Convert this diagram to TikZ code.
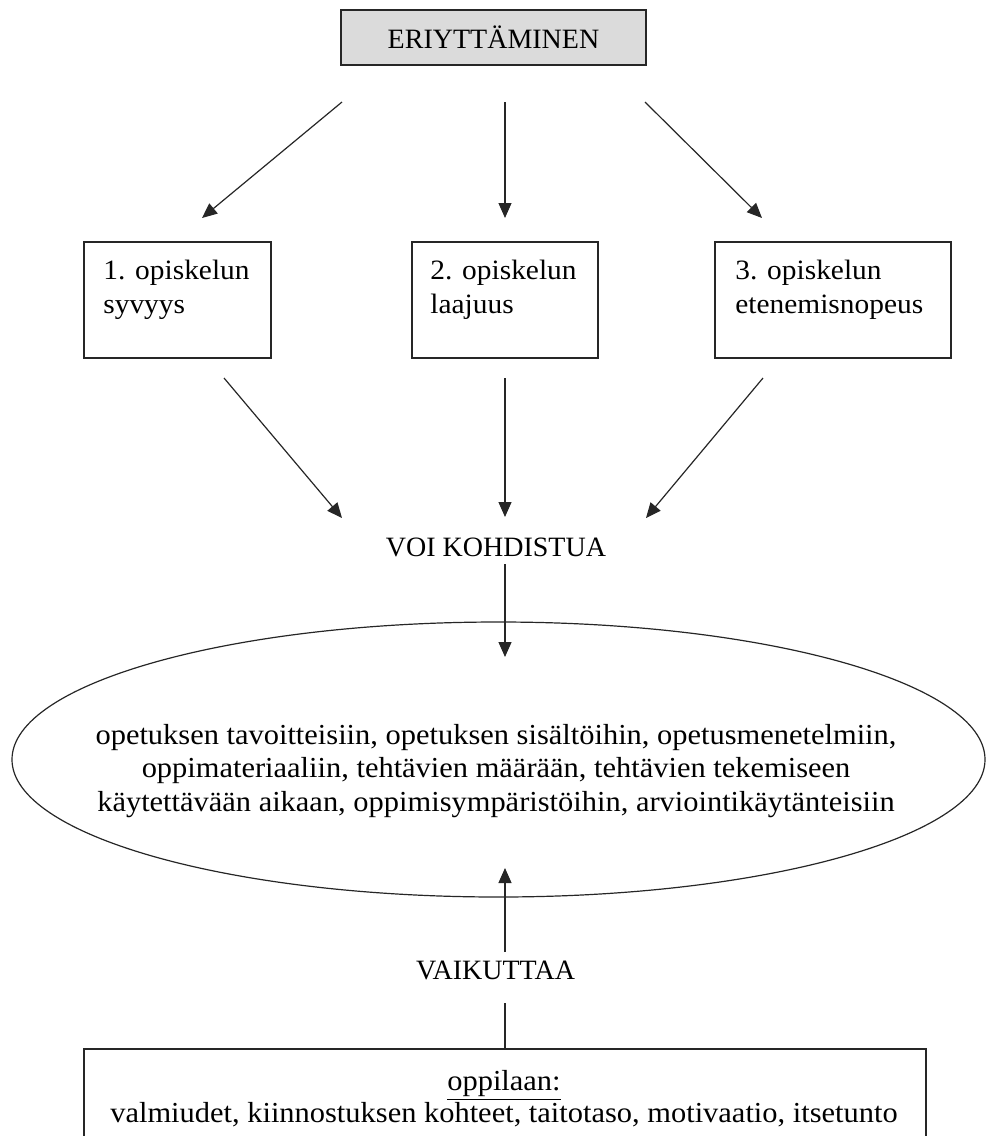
\documentclass[tikz,border=0pt]{standalone}
\usepackage{fontspec}
\setmainfont{Liberation Serif}
\newfontfamily\widefont[FakeStretch=1.05]{Liberation Serif}
\usetikzlibrary{arrows.meta,shapes.geometric}
\begin{document}
\begin{tikzpicture}[x=0.5pt,y=-0.5pt,
  every node/.style={font=\fontsize{14}{16.5}\selectfont},
  frame/.style={draw=black!85, line width=0.8pt, inner sep=0pt},
  arr/.style={draw=black!85, line width=0.6pt, -{Triangle[length=7.5pt,width=6.5pt]}},
  plainline/.style={draw=black!85, line width=0.6pt},
  lbl/.style={inner sep=0pt, align=center},
  body/.style={inner sep=0pt, align=center, font=\widefont\fontsize{14.5}{16.7}\selectfont},
  boxtxt/.style={inner sep=0pt, align=left, anchor=north west, font=\widefont\fontsize{14}{17}\selectfont}]
\useasboundingbox (0,0) rectangle (987,1136);
\clip (0,0) rectangle (987,1136);
% top box
\node[frame, fill=black!14, minimum width=152.5pt, minimum height=27.5pt] (top) at (493.5,37.5) {ERIYTTÄMINEN};
% three boxes
\node[frame, minimum width=93.5pt, minimum height=58pt] (b1) at (177.5,300) {};
\node[frame, minimum width=93pt, minimum height=58pt] (b2) at (505,300) {};
\node[frame, minimum width=118pt, minimum height=58pt] (b3) at (833,300) {};
\node[boxtxt] (t1) at (103,260) {1. opiskelun\\syvyys};
\node[boxtxt] (t2) at (430,260) {2. opiskelun\\laajuus};
\node[boxtxt] (t3) at (735,260) {3. opiskelun\\etenemisnopeus};
% labels
\node[lbl] (voi) at (496,547) {VOI KOHDISTUA};
\node[lbl] (vai) at (495.5,970) {VAIKUTTAA};
% ellipse
\node[draw=black!85, line width=0.6pt, ellipse, minimum width=486.5pt, minimum height=137.5pt, inner sep=0pt] (ell) at (498.5,759.5) {};
\node[body] (etxt) at (496,771) {opetuksen tavoitteisiin, opetuksen sisältöihin, opetusmenetelmiin,\\oppimateriaaliin, tehtävien määrään, tehtävien tekemiseen\\käytettävään aikaan, oppimisympäristöihin, arviointikäytänteisiin};
% bottom box
\node[frame, minimum width=421pt, minimum height=60pt, anchor=north] (bot) at (505,1048) {};
\node[body, font=\widefont\fontsize{14.5}{14}\selectfont] (btxt) at (504,1099) {\underline{oppilaan:}\\valmiudet, kiinnostuksen kohteet, taitotaso, motivaatio, itsetunto};
% arrow end points
\coordinate (u1s) at (342,102);  \coordinate (u1e) at (202,218);
\coordinate (u2s) at (505,102);  \coordinate (u2e) at (505,218);
\coordinate (u3s) at (645,102);  \coordinate (u3e) at (762,218);
\coordinate (l1s) at (224,378);  \coordinate (l1e) at (342,518);
\coordinate (l2s) at (505,378);  \coordinate (l2e) at (505,517);
\coordinate (l3s) at (763,378);  \coordinate (l3e) at (646,518);
\coordinate (ds) at (505,564);   \coordinate (de) at (505,657);
\coordinate (us) at (505,952);   \coordinate (ue) at (505,868);
\coordinate (ls) at (505,1003);
% connectors
\draw[arr] (u1s) -- (u1e);
\draw[arr] (u2s) -- (u2e);
\draw[arr] (u3s) -- (u3e);
\draw[arr] (l1s) -- (l1e);
\draw[arr] (l2s) -- (l2e);
\draw[arr] (l3s) -- (l3e);
\draw[arr] (ds) -- (de);
\draw[arr] (us) -- (ue);
\draw[plainline] (ls) -- (bot.north);
\end{tikzpicture}
\end{document}
